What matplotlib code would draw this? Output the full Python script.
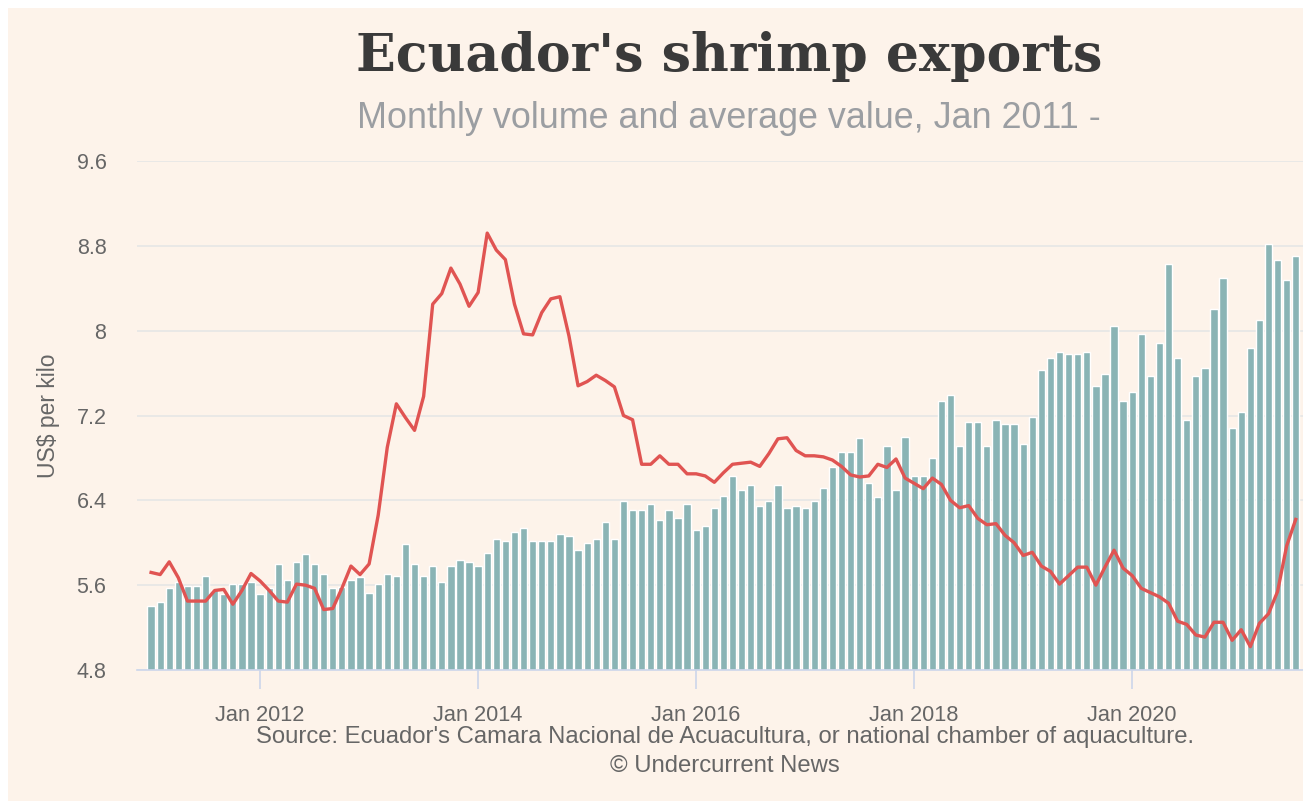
import numpy as np
import matplotlib
matplotlib.use("Agg")
import matplotlib.pyplot as plt
from matplotlib.patches import Rectangle

# monthly data, Jan 2011 - Jul 2021
months = np.arange(127)

# average value, US$ per kilo
price = [5.72, 5.70, 5.82, 5.67, 5.45, 5.45, 5.45, 5.55, 5.56, 5.42, 5.55, 5.71,
         5.64, 5.55, 5.45, 5.44, 5.61, 5.60, 5.57, 5.37, 5.38, 5.57, 5.78, 5.70,
         5.80, 6.26, 6.90, 7.31, 7.18, 7.06, 7.38, 8.25, 8.35, 8.59, 8.44, 8.23,
         8.36, 8.92, 8.76, 8.67, 8.25, 7.97, 7.96, 8.17, 8.30, 8.32, 7.95, 7.48,
         7.52, 7.58, 7.53, 7.47, 7.20, 7.16, 6.74, 6.74, 6.82, 6.74, 6.74, 6.65,
         6.65, 6.63, 6.57, 6.66, 6.74, 6.75, 6.76, 6.72, 6.84, 6.98, 6.99, 6.87,
         6.82, 6.82, 6.81, 6.78, 6.72, 6.64, 6.62, 6.63, 6.74, 6.71, 6.79, 6.61,
         6.56, 6.51, 6.61, 6.55, 6.40, 6.33, 6.35, 6.23, 6.17, 6.18, 6.07, 6.00,
         5.88, 5.91, 5.78, 5.73, 5.61, 5.69, 5.77, 5.77, 5.60, 5.77, 5.93, 5.76,
         5.69, 5.57, 5.53, 5.49, 5.43, 5.26, 5.23, 5.13, 5.11, 5.25, 5.25, 5.08,
         5.18, 5.02, 5.24, 5.33, 5.54, 5.97, 6.22]

# monthly volume, drawn on the same scale as in the source chart
volume = [5.40, 5.44, 5.57, 5.63, 5.59, 5.59, 5.69, 5.55, 5.52, 5.61, 5.61, 5.63,
          5.52, 5.57, 5.80, 5.65, 5.82, 5.89, 5.80, 5.71, 5.57, 5.58, 5.65, 5.68,
          5.53, 5.61, 5.71, 5.69, 5.99, 5.80, 5.69, 5.78, 5.63, 5.78, 5.84, 5.82,
          5.78, 5.90, 6.04, 6.02, 6.10, 6.14, 6.02, 6.02, 6.02, 6.08, 6.06, 5.93,
          6.00, 6.04, 6.20, 6.04, 6.39, 6.31, 6.31, 6.37, 6.21, 6.31, 6.23, 6.37,
          6.12, 6.16, 6.33, 6.44, 6.63, 6.50, 6.54, 6.35, 6.39, 6.54, 6.33, 6.35,
          6.33, 6.39, 6.52, 6.71, 6.86, 6.86, 6.99, 6.56, 6.43, 6.91, 6.50, 7.00,
          6.63, 6.63, 6.80, 7.34, 7.39, 6.91, 7.14, 7.14, 6.91, 7.16, 7.12, 7.12,
          6.93, 7.19, 7.63, 7.74, 7.80, 7.78, 7.78, 7.80, 7.48, 7.59, 8.04, 7.34,
          7.42, 7.97, 7.57, 7.88, 8.63, 7.74, 7.16, 7.57, 7.65, 8.20, 8.50, 7.08,
          7.23, 7.84, 8.10, 8.82, 8.67, 8.48, 8.70]

yticks = [4.8, 5.6, 6.4, 7.2, 8.0, 8.8, 9.6]
ytick_labels = ["4.8", "5.6", "6.4", "7.2", "8", "8.8", "9.6"]
xticks = [12, 36, 60, 84, 108]
xtick_labels = ["Jan 2012", "Jan 2014", "Jan 2016", "Jan 2018", "Jan 2020"]

W, H = 1303, 801
fig = plt.figure(figsize=(W / 100, H / 100), dpi=100)
fig.patch.set_facecolor("white")
fig.patches.append(Rectangle((8 / W, 0), 1, 1 - 8 / H, transform=fig.transFigure,
                             facecolor="#fdf3ea", edgecolor="none", zorder=-10))

left, right, top, bottom = 137, 1303, 161, 670
ax = fig.add_axes([left / W, (H - bottom) / H, (right - left) / W, (bottom - top) / H])
ax.set_facecolor("none")

base = 4.8
ax.bar(months, np.array(volume) - base, bottom=base, width=0.8,
       color="#8ab4b5", edgecolor="white", linewidth=1, zorder=2)
ax.plot(months, price, color="#e05452", linewidth=2.4, zorder=3,
        solid_joinstyle="round")

ax.set_xlim(-1.55, 126.8)
ax.set_ylim(4.8, 9.6)
ax.set_yticks(yticks)
ax.set_yticklabels(ytick_labels)
ax.set_xticks(xticks)
ax.set_xticklabels(xtick_labels)

ax.grid(axis="y", color="#e6e6e6", linewidth=1.2, zorder=0)
ax.set_axisbelow(True)
for s in ["top", "right", "left"]:
    ax.spines[s].set_visible(False)
ax.spines["bottom"].set_color("#ccd6eb")
ax.spines["bottom"].set_linewidth(1.2)

ax.tick_params(axis="y", length=0, pad=22, labelsize=15.5, labelcolor="#666666")
ax.tick_params(axis="x", length=14, width=1.2, color="#ccd6eb", pad=11,
               labelsize=15.7, labelcolor="#666666")
for lab in ax.get_xticklabels() + ax.get_yticklabels():
    lab.set_fontfamily("Liberation Sans")

ax.set_ylabel("US$ per kilo", fontsize=16.5, color="#666666",
              fontfamily="Liberation Sans", labelpad=12)

fig.text(729 / W, 1 - 57 / H, "Ecuador's shrimp exports", ha="center", va="center",
         fontsize=37.5, fontweight="bold", color="#3a3a3a", fontfamily="DejaVu Serif")
fig.text(729 / W, 1 - 118 / H, "Monthly volume and average value, Jan 2011 -",
         ha="center", va="center", fontsize=25.8, color="#9b9ea2",
         fontfamily="Liberation Sans")
fig.text(725 / W, 1 - 737 / H,
         "Source: Ecuador's Camara Nacional de Acuacultura, or national chamber of aquaculture.",
         ha="center", va="center", fontsize=17.2, color="#666666",
         fontfamily="Liberation Sans")
fig.text(725 / W, 1 - 766 / H, "\u00a9 Undercurrent News", ha="center", va="center",
         fontsize=17.2, color="#666666", fontfamily="Liberation Sans")

fig.savefig("out.png", dpi=100, facecolor=fig.get_facecolor())
